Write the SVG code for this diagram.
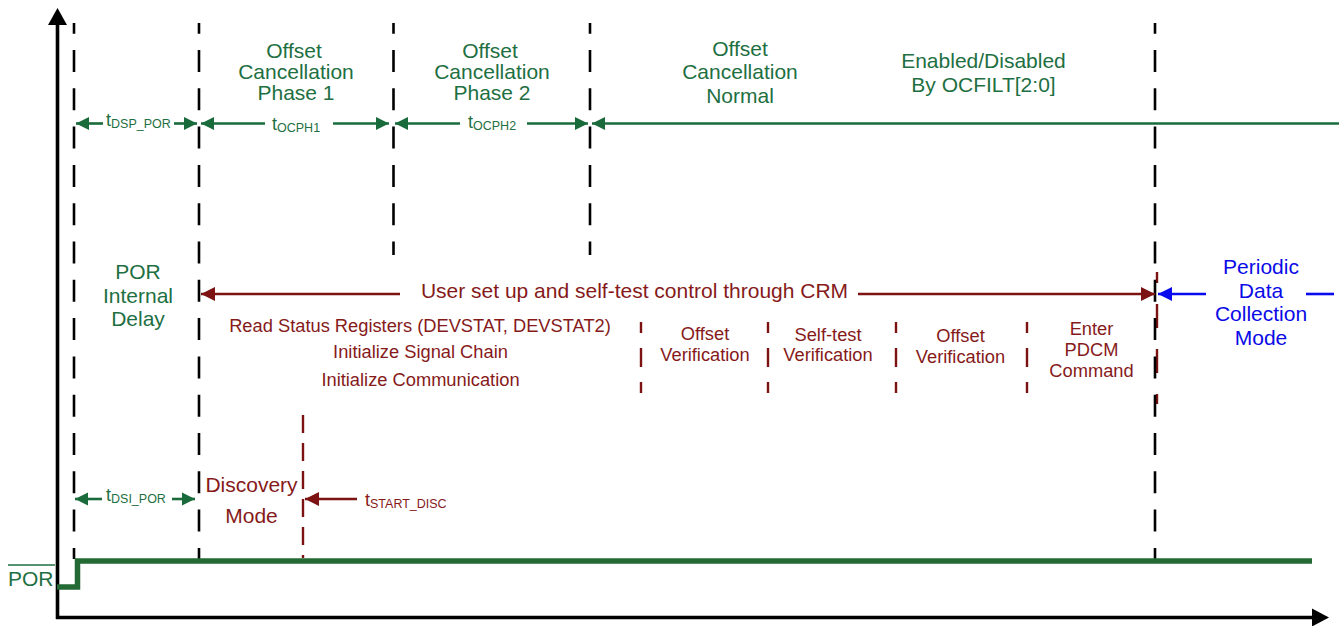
<svg xmlns="http://www.w3.org/2000/svg" width="1339" height="626" viewBox="0 0 1339 626">
<style>
text{font-family:"Liberation Sans",Arial,sans-serif}
.g{fill:#1e6f42}
.r{fill:#861a1a}
.b{fill:#0a0ae6}
.big{font-size:21px}
.sm{font-size:18.3px}
.t{font-size:18px}
.sub{font-size:12.5px}
.mid{text-anchor:middle}
.bd{stroke:#000;stroke-width:2.6;fill:none;stroke-dasharray:22 16.3;stroke-dashoffset:11.3}
.gl{stroke:#1a6b3c;stroke-width:2.6;fill:none}
.rl{stroke:#7c1212;stroke-width:2.6;fill:none}
.bl{stroke:#0a0aee;stroke-width:2.6;fill:none}
.rd{stroke:#7c1212;stroke-width:2.4;fill:none}
</style>
<defs>
<marker id="ag" markerUnits="userSpaceOnUse" markerWidth="14" markerHeight="14" viewBox="0 0 14 14" refX="13" refY="7" orient="auto"><path d="M0,0.5 L13,7 L0,13.5 z" fill="#1a6b3c"/></marker>
<marker id="ar" markerUnits="userSpaceOnUse" markerWidth="15" markerHeight="15" viewBox="0 0 15 15" refX="14" refY="7.5" orient="auto"><path d="M0,0.5 L14,7.5 L0,14.5 z" fill="#7c1212"/></marker>
<marker id="ab" markerUnits="userSpaceOnUse" markerWidth="15" markerHeight="15" viewBox="0 0 15 15" refX="14" refY="7.5" orient="auto"><path d="M0,0.5 L14,7.5 L0,14.5 z" fill="#0a0aee"/></marker>
</defs>

<g id="axes">
<line x1="57.5" y1="22" x2="57.5" y2="619" stroke="#000" stroke-width="3.6"/>
<path d="M48,25 L57.5,8 L67,25 z" fill="#000"/>
<line x1="56" y1="617.5" x2="1314" y2="617.5" stroke="#000" stroke-width="3.6"/>
<path d="M1312,608.5 L1329,617.5 L1312,626.5 z" fill="#000"/>
</g>

<g id="time-markers">
<line class="bd" x1="74" y1="23" x2="74" y2="559"/>
<line class="bd" x1="199" y1="23" x2="199" y2="559"/>
<line class="bd" x1="393.5" y1="23" x2="393.5" y2="255"/>
<line class="bd" x1="590" y1="23" x2="590" y2="255"/>
<line class="rd" x1="1157" y1="272" x2="1157" y2="404" stroke-dasharray="24 21" stroke-dashoffset="13"/>
<line class="bd" x1="1155" y1="23" x2="1155" y2="559"/>
<line class="rd" x1="303" y1="415" x2="303" y2="558" stroke-dasharray="18 10"/>
<line class="rd" x1="641" y1="322" x2="641" y2="393" stroke-dasharray="19 15" stroke-dashoffset="8"/>
<line class="rd" x1="768" y1="322" x2="768" y2="393" stroke-dasharray="19 15" stroke-dashoffset="8"/>
<line class="rd" x1="896" y1="322" x2="896" y2="393" stroke-dasharray="19 15" stroke-dashoffset="8"/>
<line class="rd" x1="1027" y1="322" x2="1027" y2="393" stroke-dasharray="19 15" stroke-dashoffset="8"/>
</g>

<g id="connectors">
<line class="gl" x1="103" y1="123.5" x2="76" y2="123.5" marker-end="url(#ag)"/>
<line class="gl" x1="174" y1="123.5" x2="197" y2="123.5" marker-end="url(#ag)"/>
<line class="gl" x1="265" y1="123.5" x2="201" y2="123.5" marker-end="url(#ag)"/>
<line class="gl" x1="333" y1="123.5" x2="389" y2="123.5" marker-end="url(#ag)"/>
<line class="gl" x1="460" y1="123.5" x2="395" y2="123.5" marker-end="url(#ag)"/>
<line class="gl" x1="527" y1="123.5" x2="588" y2="123.5" marker-end="url(#ag)"/>
<line class="gl" x1="1339" y1="123.5" x2="592" y2="123.5" marker-end="url(#ag)"/>
<line class="gl" x1="102" y1="499" x2="75" y2="499" marker-end="url(#ag)"/>
<line class="gl" x1="172" y1="499" x2="195" y2="499" marker-end="url(#ag)"/>
<line class="rl" x1="400" y1="294" x2="201" y2="294" marker-end="url(#ar)"/>
<line class="rl" x1="858" y1="294" x2="1155" y2="294" marker-end="url(#ar)"/>
<line class="rl" x1="357" y1="499" x2="305" y2="499" marker-end="url(#ar)"/>
<line class="bl" x1="1206" y1="294" x2="1158" y2="294" marker-end="url(#ab)"/>
<line class="bl" x1="1306" y1="294" x2="1334" y2="294"/>
</g>

<g id="por-signal">
<path d="M57,587 L77.5,587 L77.5,561 L1312,561" fill="none" stroke="#246a34" stroke-width="5.5"/>
<text class="g big" x="8" y="586">POR</text>
<line x1="8" y1="565" x2="55" y2="565" stroke="#1e6f42" stroke-width="1.5"/>
</g>

<g id="ocph1-label">
<text class="g big mid" x="296"><tspan x="294" y="58">Offset</tspan><tspan x="296" y="79">Cancellation</tspan><tspan x="296" y="100">Phase 1</tspan></text>
</g>
<g id="ocph2-label">
<text class="g big mid" x="492"><tspan x="490" y="58">Offset</tspan><tspan x="492" y="79">Cancellation</tspan><tspan x="492" y="100">Phase 2</tspan></text>
</g>
<g id="normal-label">
<text class="g big mid" x="740"><tspan x="740" y="56">Offset</tspan><tspan x="740" y="79">Cancellation</tspan><tspan x="740" y="102.5">Normal</tspan></text>
</g>
<g id="ocfilt-label">
<text class="g big mid"><tspan x="983.5" y="68">Enabled/Disabled</tspan><tspan x="983.5" y="92">By OCFILT[2:0]</tspan></text>
</g>

<g id="t-dsp-por"><text class="g t" x="106" y="126">t<tspan class="sub" dy="2">DSP_POR</tspan></text></g>
<g id="t-ocph1"><text class="g t" x="272" y="130">t<tspan class="sub" dy="2">OCPH1</tspan></text></g>
<g id="t-ocph2"><text class="g t" x="468" y="128">t<tspan class="sub" dy="2">OCPH2</tspan></text></g>
<g id="t-dsi-por"><text class="g t" x="106" y="501">t<tspan class="sub" dy="1.5">DSI_POR</tspan></text></g>
<g id="t-start-disc"><text class="r t" x="365" y="506">t<tspan class="sub" dy="1.5">START_DISC</tspan></text></g>

<g id="por-delay">
<text class="g big mid"><tspan x="138" y="279">POR</tspan><tspan x="138" y="303">Internal</tspan><tspan x="138" y="326">Delay</tspan></text>
</g>

<g id="crm-label">
<text class="r big mid" x="634.5" y="298">User set up and self-test control through CRM</text>
</g>

<g id="init-steps">
<text class="r sm mid"><tspan x="420" y="332">Read Status Registers (DEVSTAT, DEVSTAT2)</tspan><tspan x="420.5" y="358">Initialize Signal Chain</tspan><tspan x="420.5" y="386">Initialize Communication</tspan></text>
</g>
<g id="offset-verif-1">
<text class="r sm mid"><tspan x="705" y="340">Offset</tspan><tspan x="705" y="361">Verification</tspan></text>
</g>
<g id="selftest-verif">
<text class="r sm mid"><tspan x="828" y="341">Self-test</tspan><tspan x="828" y="361">Verification</tspan></text>
</g>
<g id="offset-verif-2">
<text class="r sm mid"><tspan x="960.5" y="342">Offset</tspan><tspan x="960.5" y="363">Verification</tspan></text>
</g>
<g id="enter-pdcm">
<text class="r sm mid"><tspan x="1091.5" y="335">Enter</tspan><tspan x="1091.5" y="356">PDCM</tspan><tspan x="1091.5" y="377">Command</tspan></text>
</g>

<g id="discovery-mode">
<text class="r big mid"><tspan x="251.5" y="492">Discovery</tspan><tspan x="251.5" y="523">Mode</tspan></text>
</g>

<g id="pdcm-mode">
<text class="b big mid"><tspan x="1261" y="274">Periodic</tspan><tspan x="1261" y="298">Data</tspan><tspan x="1261" y="321">Collection</tspan><tspan x="1261" y="345">Mode</tspan></text>
</g>
</svg>
